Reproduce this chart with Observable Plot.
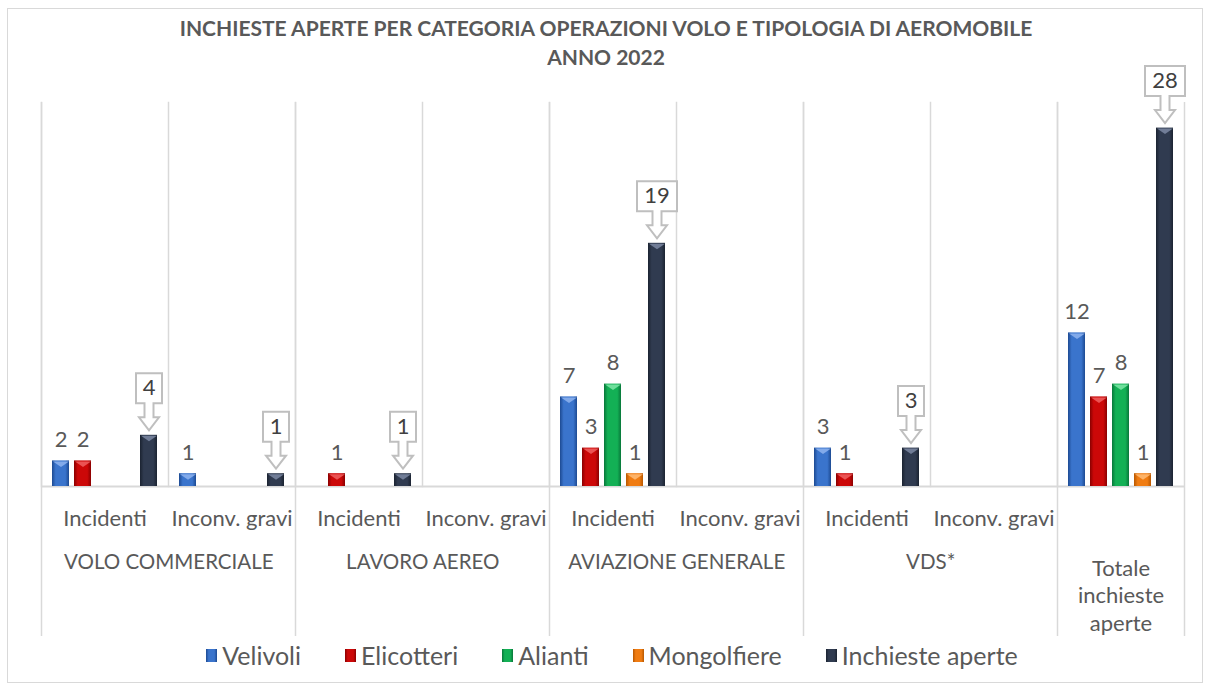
<!DOCTYPE html>
<html>
<head>
<meta charset="utf-8">
<script src="https://cdn.jsdelivr.net/npm/d3@7"></script>
<script src="https://cdn.jsdelivr.net/npm/@observablehq/plot@0.6"></script>
<style>
  html, body { margin: 0; padding: 0; background: #fff; }
  body { width: 1212px; height: 689px; position: relative; font-family: Lato, "Open Sans", sans-serif; overflow: hidden; }
  #border { position: absolute; left: 7px; top: 8px; width: 1196px; height: 675px; border: 1px solid #d9d9d9; box-sizing: border-box; }
  #title { position: absolute; left: 0; top: 13px; width: 1212px; text-align: center; font-weight: bold; color: #595959; font-size: 21px; line-height: 29px; }
  #chart { position: absolute; left: 0; top: 80px; }
  #legend { position: absolute; left: 38px; top: 641px; width: 1148px; height: 28px; display: flex; justify-content: center; align-items: center; color: #595959; font-size: 25px; }
  .item { display: flex; align-items: center; margin: 0 22px; }
  .sw { width: 11px; height: 13px; margin-right: 5px; }
</style>
</head>
<body>
<div id="border"></div>
<div id="title">INCHIESTE APERTE PER CATEGORIA OPERAZIONI VOLO E TIPOLOGIA DI AEROMOBILE<br>ANNO 2022</div>
<div id="chart"></div>
<div id="legend"></div>
<script>
// ---------- data ----------
const columns = ["VC_INC", "VC_ICG", "LA_INC", "LA_ICG", "AG_INC", "AG_ICG", "VDS_INC", "VDS_ICG", "TOT"];
const subLabels = ["Incidenti", "Inconv. gravi", "Incidenti", "Inconv. gravi", "Incidenti", "Inconv. gravi", "Incidenti", "Inconv. gravi", ""];
const categories = ["VOLO COMMERCIALE", "LAVORO AEREO", "AVIAZIONE GENERALE", "VDS*"];
const categoryFirstColumn = ["VC_INC", "LA_INC", "AG_INC", "VDS_INC"];
const totalLabel = "Totale\ninchieste\naperte";
const series = ["Velivoli", "Elicotteri", "Alianti", "Mongolfiere", "Inchieste aperte"];
const velivoli    = [2, 1, 0, 0, 7, 0, 3, 0, 12];
const elicotteri  = [2, 0, 1, 0, 3, 0, 1, 0, 7];
const alianti     = [0, 0, 0, 0, 8, 0, 0, 0, 8];
const mongolfiere = [0, 0, 0, 0, 1, 0, 0, 0, 1];
const inchieste   = [4, 1, 1, 0, 19, 0, 3, 0, 28];

// ---------- styles ----------
const palette = [
  {edge: "#1d4a92", mid: "#3a74cc", top: "#8fb4ee"},
  {edge: "#8a0000", mid: "#cc0808", top: "#f06060"},
  {edge: "#08773a", mid: "#13b055", top: "#7fe7a8"},
  {edge: "#b85800", mid: "#f07c12", top: "#ffbd78"},
  {edge: "#1b2331", mid: "#303b50", top: "#7d8aa3"}
];

// gradients
const defs = d3.select("body").append("svg").attr("width", 0).attr("height", 0)
  .style("position", "absolute").append("defs");
palette.forEach((p, i) => {
  const g = defs.append("linearGradient").attr("id", "g" + i).attr("x1", "0").attr("x2", "1").attr("y1", "0").attr("y2", "0");
  g.append("stop").attr("offset", "0%").attr("stop-color", p.edge);
  g.append("stop").attr("offset", "22%").attr("stop-color", p.mid);
  g.append("stop").attr("offset", "78%").attr("stop-color", p.mid);
  g.append("stop").attr("offset", "100%").attr("stop-color", p.edge);
});

const values = [velivoli, elicotteri, alianti, mongolfiere, inchieste];
const rows = [];
series.forEach((s, si) => {
  values[si].forEach((v, ci) => {
    if (v > 0) rows.push({col: columns[ci], series: s, value: v, si});
  });
});
const plainRows = rows.filter(d => d.si < 4);
const inchRows = rows.filter(d => d.si === 4);

const subRows = columns.map((c, i) => ({col: c, label: subLabels[i]})).filter(d => d.label);
const catRows = categories.map((c, i) => ({col: categoryFirstColumn[i], label: c}));

const W = 1212, H = 565, ML = 38, MR = 26, MT = 22, MB = 159;
const colWidth = (W - ML - MR) / columns.length;

function callout(halfW) {
  return {
    draw(ctx) {
      ctx.moveTo(-halfW, -62); ctx.lineTo(halfW, -62); ctx.lineTo(halfW, -32);
      ctx.lineTo(4.5, -32); ctx.lineTo(4.5, -18); ctx.lineTo(10, -18); ctx.lineTo(0, -5);
      ctx.lineTo(-10, -18); ctx.lineTo(-4.5, -18); ctx.lineTo(-4.5, -32);
      ctx.lineTo(-halfW, -32); ctx.closePath();
    }
  };
}
const chevron = {
  draw(ctx) { ctx.moveTo(-8, 0.5); ctx.lineTo(8, 0.5); ctx.lineTo(0, 6); ctx.closePath(); }
};

const labelColor = "#595959";
const chart = Plot.plot({
  width: W, height: H,
  marginLeft: ML, marginRight: MR, marginTop: MT, marginBottom: MB,
  style: {fontFamily: "Lato, 'Open Sans', sans-serif", background: "transparent", overflow: "visible"},
  fx: {domain: columns, padding: 0, axis: null},
  x: {domain: series, paddingInner: 0.217, paddingOuter: 0.38, axis: null},
  y: {domain: [0, 30], axis: null},
  color: {type: "identity"},
  marks: [
    Plot.frame({anchor: "left", stroke: "#d9d9d9", strokeWidth: 1.5}),
    Plot.ruleY([0], {stroke: "#d9d9d9", strokeWidth: 2}),
    Plot.barY(rows, {fx: "col", x: "series", y: "value", fill: d => "url(#g" + d.si + ")"}),
    Plot.dot(rows, {fx: "col", x: "series", y: "value", symbol: chevron, fill: d => palette[d.si].top, stroke: "none", fillOpacity: 0.85}),
    Plot.text(plainRows, {fx: "col", x: "series", y: "value", text: d => String(d.value), dy: -21, lineAnchor: "middle", fontSize: 22, fill: labelColor}),
    Plot.dot(inchRows.filter(d => d.value < 10), {fx: "col", x: "series", y: "value", symbol: callout(13), fill: "white", stroke: "#bfbfbf", strokeWidth: 2}),
    Plot.dot(inchRows.filter(d => d.value >= 10), {fx: "col", x: "series", y: "value", symbol: callout(20), fill: "white", stroke: "#bfbfbf", strokeWidth: 2}),
    Plot.text(inchRows, {fx: "col", x: "series", y: "value", text: d => String(d.value), dy: -47, lineAnchor: "middle", fontSize: 22, fill: "#404040"}),
    Plot.text(subRows, {fx: "col", frameAnchor: "bottom", dy: 32, text: "label", lineAnchor: "middle", fontSize: 22, fill: labelColor}),
    Plot.text(catRows, {fx: "col", frameAnchor: "bottom", dx: colWidth / 2, dy: 76, text: "label", lineAnchor: "middle", fontSize: 20.5, fill: labelColor}),
    Plot.text([totalLabel], {fx: ["TOT"], frameAnchor: "bottom", dy: 108, text: d => d, lineAnchor: "middle", lineHeight: 1.25, fontSize: 22, fill: labelColor})
  ]
});

// long category dividers and right edge
const fxs = chart.scale("fx");
const ys = chart.scale("y");
const yTop = ys.apply(30);
const yBottom = ys.apply(0) + 150;
const edges = categoryFirstColumn.concat(["TOT"]).map(c => fxs.apply(c));
edges.push(fxs.apply("TOT") + fxs.bandwidth);
const g = d3.select(chart).insert("g", ":first-child");
edges.forEach(x => {
  g.append("line").attr("x1", x + 0.5).attr("x2", x + 0.5).attr("y1", yTop).attr("y2", yBottom)
    .attr("stroke", "#d9d9d9").attr("stroke-width", 1.5);
});

document.getElementById("chart").appendChild(chart);

// legend
const legend = d3.select("#legend");
series.forEach((s, i) => {
  const it = legend.append("div").attr("class", "item");
  it.append("div").attr("class", "sw").style("background", `linear-gradient(to right, ${palette[i].edge}, ${palette[i].mid} 25%, ${palette[i].mid} 75%, ${palette[i].edge})`);
  it.append("span").text(s);
});
</script>
</body>
</html>
